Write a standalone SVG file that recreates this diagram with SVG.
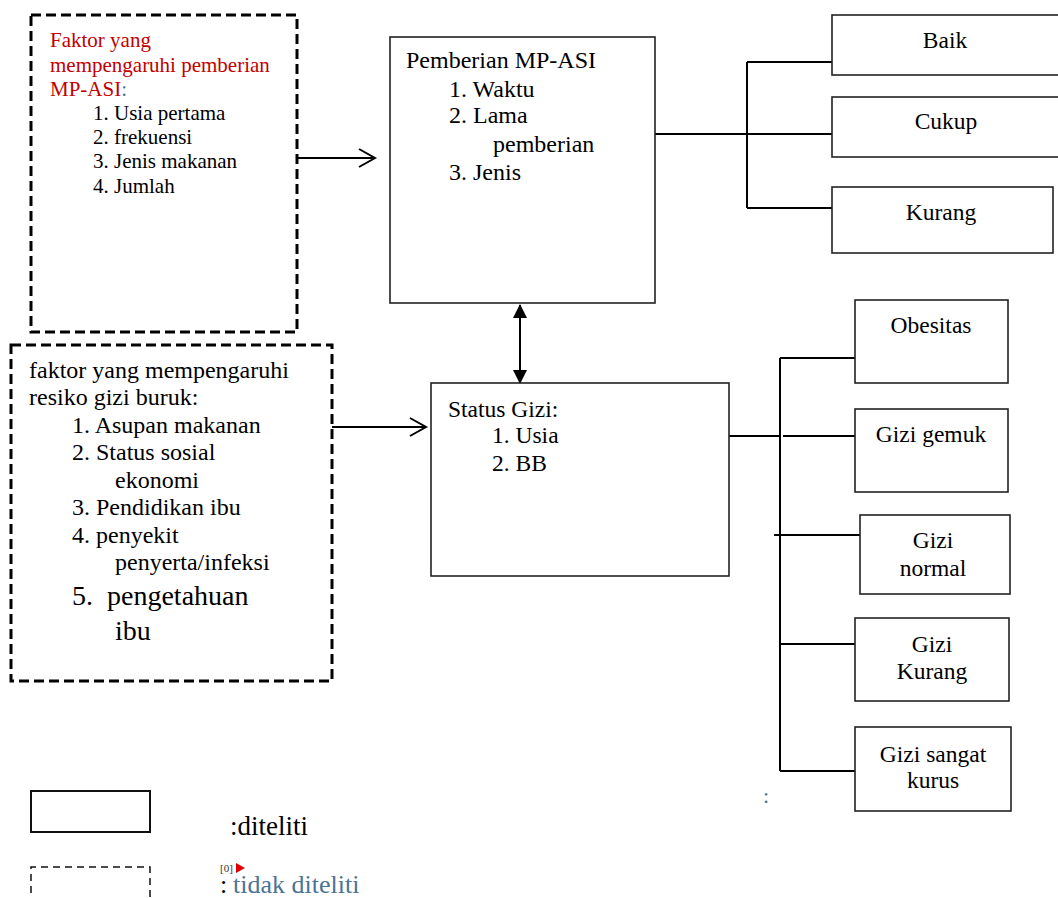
<svg xmlns="http://www.w3.org/2000/svg" width="1058" height="898" viewBox="0 0 1058 898">
<style>
text{font-family:"Liberation Serif","Times New Roman",serif;fill:#000}
.dash{fill:none;stroke:#000;stroke-width:3;stroke-dasharray:10 5}
.box{fill:#fff;stroke:#222;stroke-width:1.6}
.ln{fill:none;stroke:#000;stroke-width:2}
.red{fill:#c00000}
.blue{fill:#4a7396}
.f21{font-size:21px}
.f24{font-size:24px}
.f23{font-size:23.5px}
.f28{font-size:28px}
.c{text-anchor:middle}
</style>
<defs>
<marker id="open" viewBox="0 0 20 20" refX="17" refY="10" markerWidth="20" markerHeight="20" markerUnits="userSpaceOnUse" orient="auto">
<path d="M1 1 L17 10 L1 19" fill="none" stroke="#000" stroke-width="2"/>
</marker>
<marker id="fill" viewBox="0 0 14 14" refX="13" refY="7" markerWidth="14" markerHeight="14" markerUnits="userSpaceOnUse" orient="auto-start-reverse">
<path d="M0 0 L14 7 L0 14 Z" fill="#000"/>
</marker>
</defs>

<g id="connectors">
<line class="ln" x1="297" y1="158" x2="375" y2="158" marker-end="url(#open)"/>
<line class="ln" x1="332" y1="427" x2="426" y2="427" marker-end="url(#open)"/>
<line class="ln" x1="520" y1="305" x2="520" y2="383" marker-start="url(#fill)" marker-end="url(#fill)"/>
<path class="ln" d="M655 134 H832 M747 62 V208 M747 62 H832 M747 208 H832"/>
<path class="ln" d="M729 436 H779 M783 436 H855 M780 358 V771 M780 358 H855 M774 535 H860 M780 644 H855 M780 771 H855"/>
</g>

<g id="node-faktor-mpasi">
<rect class="dash" x="31" y="15" width="266" height="317"/>
<text class="f21 red" x="50" y="47">Faktor yang</text>
<text class="f21 red" x="50" y="72">mempengaruhi pemberian</text>
<text class="f21" x="50" y="96"><tspan class="red">MP-ASI</tspan><tspan class="blue">:</tspan></text>
<text class="f21" x="93" y="120">1. Usia pertama</text>
<text class="f21" x="93" y="144">2. frekuensi</text>
<text class="f21" x="93" y="168">3. Jenis makanan</text>
<text class="f21" x="93" y="193">4. Jumlah</text>
</g>

<g id="node-faktor-gizi">
<rect class="dash" x="11" y="345" width="321" height="336"/>
<text class="f24" x="29" y="378">faktor yang mempengaruhi</text>
<text class="f24" x="29" y="405">resiko gizi buruk:</text>
<text class="f24" x="72" y="433">1. Asupan makanan</text>
<text class="f24" x="72" y="460">2. Status sosial</text>
<text class="f24" x="115" y="488">ekonomi</text>
<text class="f24" x="72" y="515">3. Pendidikan ibu</text>
<text class="f24" x="72" y="543">4. penyekit</text>
<text class="f24" x="115" y="570">penyerta/infeksi</text>
<text class="f28" x="72" y="605" xml:space="preserve">5.  pengetahuan</text>
<text class="f28" x="115" y="640">ibu</text>
</g>

<g id="node-pemberian">
<rect class="box" x="390" y="37" width="265" height="266"/>
<text class="f24" x="406" y="68">Pemberian MP-ASI</text>
<text class="f24" x="449" y="97">1. Waktu</text>
<text class="f24" x="449" y="123">2. Lama</text>
<text class="f24" x="493" y="152">pemberian</text>
<text class="f24" x="449" y="180">3. Jenis</text>
</g>

<g id="node-status-gizi">
<rect class="box" x="431" y="383" width="298" height="193"/>
<text class="f23" x="448" y="417">Status Gizi:</text>
<text class="f23" x="492" y="443">1. Usia</text>
<text class="f23" x="492" y="471">2. BB</text>
</g>

<g id="node-baik">
<rect class="box" x="832" y="15" width="240" height="60"/>
<text class="f23 c" x="945" y="48">Baik</text>
</g>
<g id="node-cukup">
<rect class="box" x="832" y="97" width="240" height="60"/>
<text class="f23 c" x="946" y="129">Cukup</text>
</g>
<g id="node-kurang">
<rect class="box" x="832" y="187" width="221" height="66"/>
<text class="f23 c" x="941" y="220">Kurang</text>
</g>

<g id="node-obesitas">
<rect class="box" x="855" y="300" width="153" height="83"/>
<text class="f23 c" x="931" y="333">Obesitas</text>
</g>
<g id="node-gizi-gemuk">
<rect class="box" x="855" y="409" width="153" height="83"/>
<text class="f23 c" x="931" y="442">Gizi gemuk</text>
</g>
<g id="node-gizi-normal">
<rect class="box" x="860" y="515" width="150" height="79"/>
<text class="f23 c" x="933" y="548">Gizi</text>
<text class="f23 c" x="933" y="576">normal</text>
</g>
<g id="node-gizi-kurang">
<rect class="box" x="855" y="618" width="154" height="83"/>
<text class="f23 c" x="932" y="652">Gizi</text>
<text class="f23 c" x="932" y="679">Kurang</text>
</g>
<g id="node-gizi-sangat-kurus">
<rect class="box" x="855" y="727" width="156" height="84"/>
<text class="f23 c" x="933" y="762">Gizi sangat</text>
<text class="f23 c" x="933" y="788">kurus</text>
</g>

<text class="blue" x="763" y="803" style="font-size:22px">:</text>

<g id="legend">
<rect x="31" y="791" width="119" height="41" fill="none" stroke="#111" stroke-width="2"/>
<text x="230" y="835" style="font-size:27px">:diteliti</text>
<path d="M31 905 V867 H150 V905" fill="none" stroke="#111" stroke-width="1.5" stroke-dasharray="7 5"/>
<text x="220" y="872" style="font-size:11px;fill:#333">[0]</text>
<path d="M236 863 L245 868 L236 873 Z" fill="#e00000"/>
<text x="220" y="893" style="font-size:26px">:<tspan class="blue" x="233">tidak diteliti</tspan></text>
</g>
</svg>
